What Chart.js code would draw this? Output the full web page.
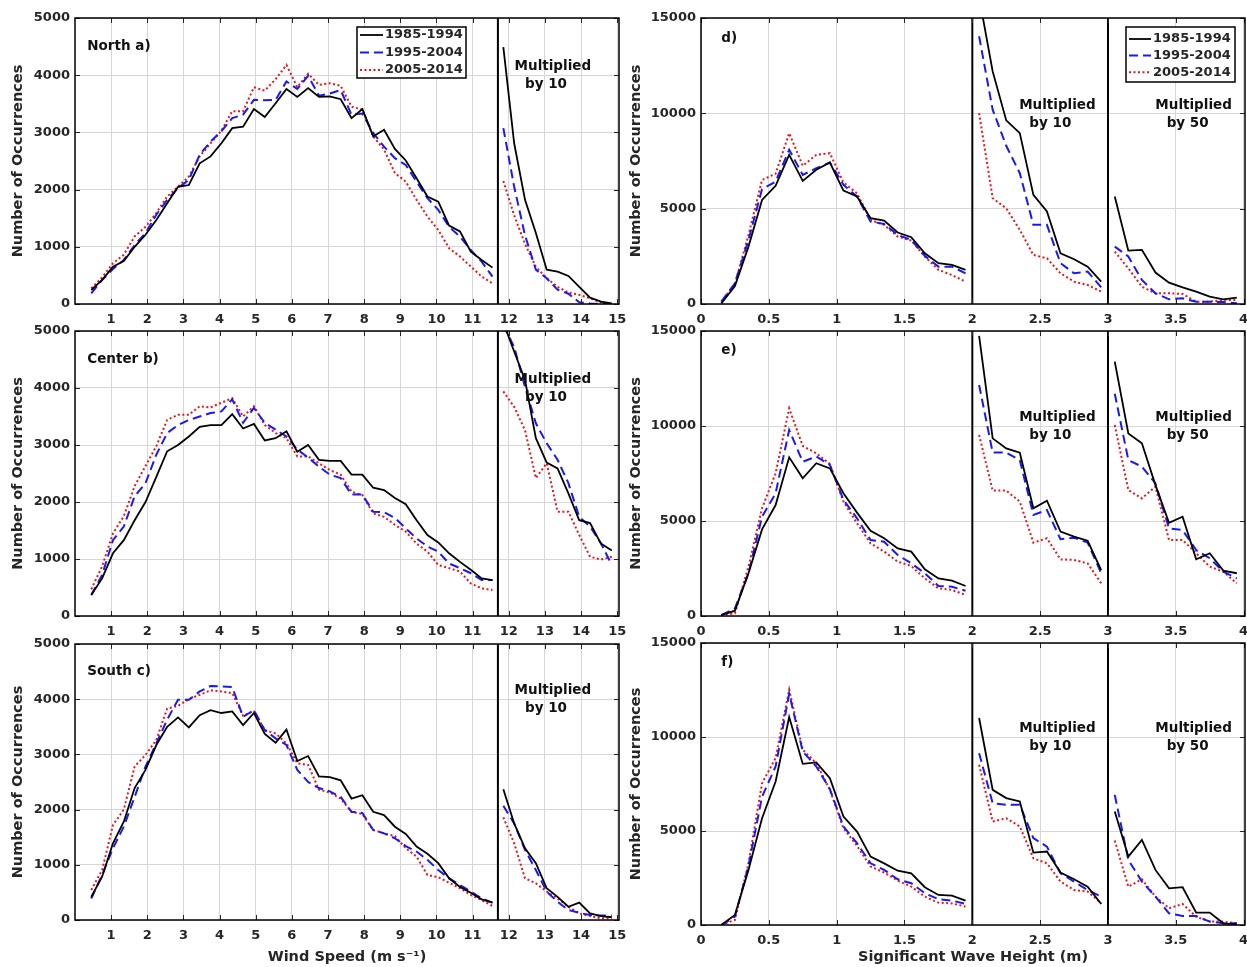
<!DOCTYPE html>
<html>
<head>
<meta charset="utf-8">
<script src="https://cdn.jsdelivr.net/npm/chart.js@4.4.1/dist/chart.umd.min.js"></script>
<style>
  body { margin: 0; background: #fff; width: 1247px; height: 967px; overflow: hidden; position: relative; }
  canvas { position: absolute; }
</style>
</head>
<body>
<canvas id="pa"></canvas>
<canvas id="pb"></canvas>
<canvas id="pc"></canvas>
<canvas id="pd"></canvas>
<canvas id="pe"></canvas>
<canvas id="pf"></canvas>
<script>
// ---- data ----
const periods = ['1985-1994', '1995-2004', '2005-2014'];

// wind speed bin centres (m/s); the black divider sits at 11.7
const windX = [0.45, 0.75, 1.05, 1.35, 1.65, 1.95, 2.25, 2.55, 2.85, 3.15, 3.45, 3.75, 4.05, 4.35, 4.65, 4.95,
  5.25, 5.55, 5.85, 6.15, 6.45, 6.75, 7.05, 7.35, 7.65, 7.95, 8.25, 8.55, 8.85, 9.15, 9.45, 9.75, 10.05, 10.35,
  10.65, 10.95, 11.25, 11.55, 11.85, 12.15, 12.45, 12.75, 13.05, 13.35, 13.65, 13.95, 14.25, 14.55, 14.85];
const windBreaks = [11.7];
const windTicks = [1, 2, 3, 4, 5, 6, 7, 8, 9, 10, 11, 12, 13, 14, 15];
const windCountTicks = [0, 1000, 2000, 3000, 4000, 5000];

// wave height bin centres (m); dividers at 2 and 3
const waveX = [0.15, 0.25, 0.35, 0.45, 0.55, 0.65, 0.75, 0.85, 0.95, 1.05, 1.15, 1.25, 1.35, 1.45, 1.55, 1.65,
  1.75, 1.85, 1.95, 2.05, 2.15, 2.25, 2.35, 2.45, 2.55, 2.65, 2.75, 2.85, 2.95, 3.05, 3.15, 3.25, 3.35, 3.45,
  3.55, 3.65, 3.75, 3.85, 3.95];
const waveBreaks = [2, 3];
const waveTicks = [0, 0.5, 1, 1.5, 2, 2.5, 3, 3.5, 4];
const waveCountTicks = [0, 5000, 10000, 15000];

// North a)
const north85 = [245, 420, 650, 750, 1000, 1210, 1470, 1760, 2050, 2080, 2460, 2580, 2810, 3075, 3100, 3410, 3270, 3510, 3760, 3620, 3775,
  3620, 3630, 3580, 3250, 3410, 2930, 3045, 2710, 2510, 2200, 1880, 1790, 1370, 1270, 915, 770, 636,
  4490, 2810, 1820, 1240, 600, 565, 490, 300, 110, 40, 10];
const north95 = [185, 420, 610, 770, 1030, 1240, 1560, 1820, 2025, 2170, 2610, 2840, 3020, 3250, 3310, 3570, 3560, 3570, 3890, 3760, 3990,
  3640, 3680, 3740, 3310, 3330, 2990, 2750, 2550, 2430, 2140, 1850, 1645, 1350, 1180, 945, 740, 480,
  3075, 2050, 1200, 600, 450, 250, 180, 30, 10, 0, 0];
const north05 = [275, 465, 710, 860, 1180, 1350, 1590, 1880, 2050, 2230, 2580, 2810, 3030, 3370, 3370, 3790, 3730, 3930, 4180, 3790, 4025,
  3830, 3860, 3815, 3450, 3400, 2930, 2700, 2290, 2140, 1820, 1530, 1295, 975, 830, 655, 480, 360,
  2150, 1550, 1050, 650, 450, 300, 200, 160, 100, 30, 0];

// Center b)
const center85 = [370, 660, 1100, 1330, 1680, 2000, 2440, 2890, 3000, 3150, 3320, 3350, 3350, 3540, 3290, 3370, 3080, 3120, 3240, 2880, 3000,
  2740, 2720, 2720, 2480, 2480, 2250, 2210, 2070, 1960, 1680, 1420, 1290, 1100, 950, 810, 660, 630,
  5150, 4640, 4140, 3120, 2690, 2590, 2150, 1680, 1630, 1270, 1150];
const center95 = [370, 720, 1330, 1570, 2100, 2330, 2830, 3210, 3350, 3440, 3500, 3560, 3590, 3800, 3390, 3650, 3390, 3270, 3150, 2920, 2780,
  2620, 2480, 2420, 2130, 2130, 1830, 1820, 1720, 1540, 1360, 1220, 1130, 920, 840, 750, 630, 630,
  5100, 4720, 4020, 3380, 3030, 2740, 2330, 1740, 1570, 1275, 895];
const center05 = [470, 870, 1450, 1750, 2280, 2630, 2980, 3440, 3530, 3530, 3680, 3660, 3740, 3820, 3500, 3680, 3350, 3210, 3120, 2800, 2800,
  2680, 2560, 2480, 2180, 2120, 1800, 1740, 1600, 1480, 1270, 1130, 895, 840, 780, 570, 485, 455,
  3940, 3670, 3260, 2420, 2680, 1830, 1830, 1420, 1040, 990, 1040];

// South c)
const south85 = [420, 785, 1390, 1780, 2390, 2720, 3170, 3500, 3670, 3490, 3710, 3800, 3750, 3780, 3530, 3750, 3370, 3210, 3450, 2880, 2970,
  2600, 2590, 2530, 2200, 2260, 1960, 1900, 1690, 1560, 1330, 1200, 1030, 755, 600, 495, 375, 315,
  2370, 1750, 1300, 1030, 575, 420, 240, 315, 120, 70, 50];
const south95 = [390, 815, 1300, 1690, 2230, 2780, 3200, 3630, 3990, 3990, 4140, 4240, 4230, 4220, 3680, 3800, 3440, 3290, 3170, 2720, 2500,
  2390, 2330, 2230, 1960, 1940, 1630, 1570, 1480, 1340, 1240, 1090, 905, 755, 635, 515, 390, 315,
  2070, 1750, 1270, 905, 515, 330, 180, 130, 90, 80, 80];
const south05 = [545, 905, 1720, 2000, 2780, 2990, 3260, 3830, 3880, 4000, 4080, 4160, 4140, 4110, 3700, 3790, 3440, 3380, 3200, 2840, 2810,
  2360, 2310, 2200, 1960, 1920, 1630, 1570, 1520, 1300, 1150, 815, 775, 675, 575, 455, 360, 255,
  1860, 1390, 755, 665, 515, 390, 240, 120, 70, 30, 25];

// d)
const waveD85 = [35, 945, 3010, 5460, 6200, 7820, 6460, 7040, 7420, 5950, 5640, 4500, 4380, 3750, 3500, 2660, 2140, 2050, 1790,
  16100, 12200, 9630, 8960, 5720, 4850, 2660, 2350, 1960, 1170,
  5640, 2800, 2840, 1650, 1120, 875, 650, 385, 245, 330];
const waveD95 = [120, 1090, 3360, 6020, 6420, 8090, 6770, 7120, 7420, 6250, 5640, 4320, 4200, 3620, 3360, 2520, 1960, 1960, 1610,
  14040, 10190, 8300, 6860, 4150, 4150, 2140, 1610, 1700, 875,
  3010, 2490, 1260, 560, 245, 300, 120, 120, 100, 35];
const waveD05 = [120, 1050, 3620, 6510, 6830, 8960, 7250, 7820, 7910, 6370, 5810, 4410, 4150, 3540, 3330, 2490, 1790, 1520, 1170,
  10010, 5550, 5020, 3890, 2570, 2400, 1610, 1170, 1000, 650,
  2750, 1870, 910, 560, 560, 525, 120, 120, 210, 210];

// e)
const waveE85 = [50, 280, 2250, 4560, 5840, 8350, 7250, 8040, 7770, 6460, 5440, 4490, 4090, 3560, 3390, 2460, 1980, 1860, 1580,
  14740, 9350, 8820, 8600, 5670, 6070, 4440, 4180, 3960, 2420,
  13390, 9610, 9090, 6890, 4910, 5230, 2980, 3300, 2390, 2250];
const waveE95 = [50, 400, 2250, 5230, 6460, 9790, 8120, 8390, 7950, 6110, 5140, 4000, 3910, 3210, 2770, 2250, 1580, 1540, 1330,
  12160, 8600, 8600, 8200, 5320, 5580, 4040, 4120, 3860, 2250,
  11700, 8210, 7860, 6980, 4610, 4520, 3470, 3040, 2330, 1980];
const waveE05 = [50, 140, 2600, 5670, 7510, 10930, 8950, 8560, 8000, 6020, 4880, 3820, 3390, 2860, 2630, 1980, 1460, 1370, 1110,
  9530, 6600, 6600, 6020, 3860, 4090, 2980, 2950, 2770, 1720,
  10050, 6630, 6190, 6810, 4000, 4000, 3300, 2600, 2330, 1720];

// f)
const waveF85 = [0, 530, 2930, 5680, 7630, 11060, 8570, 8650, 7810, 5770, 4970, 3640, 3280, 2890, 2750, 2010, 1600, 1560, 1300,
  11010, 7190, 6750, 6570, 3850, 3910, 2790, 2430, 2040, 1120,
  6040, 3640, 4530, 2930, 1950, 2010, 660, 660, 90, 35];
const waveF95 = [0, 440, 3140, 6830, 8430, 12300, 9230, 8430, 7230, 5240, 4350, 3280, 2930, 2430, 2220, 1690, 1370, 1300, 1120,
  9140, 6480, 6390, 6390, 4620, 4170, 2750, 2310, 1860, 1510,
  6920, 3460, 2310, 1510, 620, 480, 480, 180, 90, 90];
const waveF05 = [0, 270, 3280, 7540, 8880, 12520, 9320, 8610, 7190, 5150, 4210, 3110, 2790, 2360, 2040, 1510, 1190, 1150, 980,
  8520, 5500, 5680, 5240, 3550, 3280, 2310, 1860, 1780, 1150,
  4490, 2040, 2430, 1510, 890, 1120, 440, 180, 180, 90];

// ---- styles ----
const FONT = "'DejaVu Sans', sans-serif";
const TEXT = '#262626';
const GRID = '#d6d6d6';
const lineColors = ['#000000', '#1a1aee', '#e8141b'];
const lineDash = [[], [9, 5], [2, 2.5]];
const lineWidths = [1.8, 2, 2];

function buildPoints(xs, ys, breaks) {
  const pts = [];
  xs.forEach((x, i) => {
    if (i > 0 && breaks.some(b => xs[i - 1] < b && x > b)) {
      pts.push({ x: (xs[i - 1] + x) / 2, y: null });
    }
    pts.push({ x: x, y: ys[i] });
  });
  return pts;
}

// frame, inward ticks, dividers, panel notes and legend box
const decoPlugin = {
  id: 'deco',
  afterDatasetsDraw(chart, args, opts) {
    const ctx = chart.ctx;
    const a = chart.chartArea;
    const xs = chart.scales.x, ys = chart.scales.y;
    ctx.save();

    // dividers
    ctx.strokeStyle = '#000';
    ctx.lineWidth = 2;
    opts.breaks.forEach(b => {
      const px = xs.getPixelForValue(b);
      ctx.beginPath(); ctx.moveTo(px, a.top); ctx.lineTo(px, a.bottom); ctx.stroke();
    });

    // inward tick marks
    ctx.strokeStyle = TEXT;
    ctx.lineWidth = 1;
    xs.ticks.forEach(t => {
      const px = Math.round(xs.getPixelForValue(t.value)) + 0.5;
      ctx.beginPath();
      ctx.moveTo(px, a.top); ctx.lineTo(px, a.top + 5);
      ctx.moveTo(px, a.bottom); ctx.lineTo(px, a.bottom - 5);
      ctx.stroke();
    });
    ys.ticks.forEach(t => {
      const py = Math.round(ys.getPixelForValue(t.value)) + 0.5;
      ctx.beginPath();
      ctx.moveTo(a.left, py); ctx.lineTo(a.left + 5, py);
      ctx.moveTo(a.right, py); ctx.lineTo(a.right - 5, py);
      ctx.stroke();
    });

    // frame
    ctx.strokeStyle = '#000';
    ctx.lineWidth = 1.5;
    ctx.strokeRect(a.left, a.top, a.right - a.left, a.bottom - a.top);

    // notes
    ctx.fillStyle = '#111';
    ctx.textBaseline = 'middle';
    ctx.font = 'bold 13.5px ' + FONT;
    opts.notes.forEach(n => {
      ctx.textAlign = n.align;
      ctx.fillText(n.text, xs.getPixelForValue(n.x), ys.getPixelForValue(n.y));
    });

    // legend
    const lg = opts.legend;
    if (lg) {
      const lx = a.left + lg.dx, ly = a.top + lg.dy;
      ctx.fillStyle = '#fff';
      ctx.fillRect(lx, ly, lg.w, lg.h);
      ctx.strokeStyle = '#000';
      ctx.lineWidth = 1.5;
      ctx.strokeRect(lx, ly, lg.w, lg.h);
      periods.forEach((p, i) => {
        const cy = ly + lg.rowTop + i * lg.rowGap;
        ctx.strokeStyle = lineColors[i];
        ctx.lineWidth = lineWidths[i];
        ctx.setLineDash(lineDash[i]);
        ctx.beginPath();
        ctx.moveTo(lx + 3, cy); ctx.lineTo(lx + 3 + lg.sample, cy);
        ctx.stroke();
        ctx.setLineDash([]);
        ctx.fillStyle = TEXT;
        ctx.textAlign = 'left';
        ctx.font = 'bold 13px ' + FONT;
        ctx.fillText(p, lx + lg.textX, cy);
      });
    }
    ctx.restore();
  }
};

const leftNotes = (name) => [
  { text: name, x: 0.34, y: 4500, align: 'left' },
  { text: 'Multiplied', x: 13.22, y: 4150, align: 'center' },
  { text: 'by 10', x: 13.03, y: 3835, align: 'center' }
];
const rightNotes = (name) => [
  { text: name, x: 0.15, y: 13950, align: 'left' },
  { text: 'Multiplied', x: 2.627, y: 10430, align: 'center' },
  { text: 'by 10', x: 2.575, y: 9480, align: 'center' },
  { text: 'Multiplied', x: 3.631, y: 10430, align: 'center' },
  { text: 'by 50', x: 3.587, y: 9480, align: 'center' }
];

const panels = [
  { id: 'pa', left: 75, top: 18, h: 286, axisH: 30, side: 'L', series: [north85, north95, north05], notes: leftNotes('North a)'),
    legend: { dx: 282, dy: 9, w: 109, h: 51, rowTop: 8, rowGap: 17.5, sample: 23, textX: 28 } },
  { id: 'pb', left: 75, top: 331, h: 285, axisH: 30, side: 'L', series: [center85, center95, center05], notes: leftNotes('Center b)') },
  { id: 'pc', left: 75, top: 644, h: 276, axisH: 47, side: 'L', series: [south85, south95, south05], notes: leftNotes('South c)'),
    xTitle: 'Wind Speed (m s\u207B\u00B9)' },
  { id: 'pd', left: 701, top: 18, h: 286, axisH: 30, side: 'R', series: [waveD85, waveD95, waveD05], notes: rightNotes('d)'),
    legend: { dx: 425, dy: 9, w: 109, h: 55, rowTop: 12, rowGap: 16.6, sample: 22, textX: 27 } },
  { id: 'pe', left: 701, top: 331, h: 285, axisH: 30, side: 'R', series: [waveE85, waveE95, waveE05], notes: rightNotes('e)') },
  { id: 'pf', left: 701, top: 643, h: 282, axisH: 42, side: 'R', series: [waveF85, waveF95, waveF05], notes: rightNotes('f)'),
    xTitle: 'Significant Wave Height (m)' }
];

const Y_AXIS_W = 75, PLOT_W = 544, PAD_TOP = 12;

panels.forEach(p => {
  const isLeft = p.side === 'L';
  const xsArr = isLeft ? windX : waveX;
  const breaks = isLeft ? windBreaks : waveBreaks;
  const xTicks = isLeft ? windTicks : waveTicks;
  const yTicks = isLeft ? windCountTicks : waveCountTicks;
  const padRight = isLeft ? 12 : 2;

  const canvas = document.getElementById(p.id);
  canvas.width = Y_AXIS_W + PLOT_W + padRight;
  canvas.height = PAD_TOP + p.h + p.axisH;
  canvas.style.left = (p.left - Y_AXIS_W) + 'px';
  canvas.style.top = (p.top - PAD_TOP) + 'px';

  const datasets = p.series.map((ys, i) => ({
    label: periods[i],
    data: buildPoints(xsArr, ys, breaks),
    borderColor: lineColors[i],
    borderWidth: lineWidths[i],
    borderDash: lineDash[i],
    pointRadius: 0,
    fill: false,
    tension: 0,
    spanGaps: false
  }));

  new Chart(canvas.getContext('2d'), {
    type: 'line',
    data: { datasets: datasets },
    plugins: [decoPlugin],
    options: {
      responsive: false,
      animation: false,
      events: [],
      layout: { padding: { top: PAD_TOP, right: padRight, left: 0, bottom: 0 } },
      plugins: {
        legend: { display: false },
        tooltip: { enabled: false },
        deco: { breaks: breaks, notes: p.notes, legend: p.legend }
      },
      scales: {
        x: {
          type: 'linear',
          min: 0,
          max: isLeft ? 15.05 : 4.01,
          afterBuildTicks: s => { s.ticks = xTicks.map(v => ({ value: v })); },
          afterFit: s => { s.height = p.axisH; s.paddingLeft = 0; s.paddingRight = 0; s.paddingTop = 0; s.paddingBottom = 0; },
          grid: { color: GRID, lineWidth: 1, drawTicks: false },
          border: { display: false },
          ticks: {
            autoSkip: false, maxRotation: 0, padding: 8, color: TEXT,
            font: { family: FONT, size: 13, weight: 'bold' },
            callback: v => String(v)
          },
          title: {
            display: !!p.xTitle, text: p.xTitle || '', color: TEXT,
            font: { family: FONT, size: 14.5, weight: 'bold' },
            padding: { top: 0, bottom: 1 }
          }
        },
        y: {
          min: 0,
          max: isLeft ? 5000 : 15000,
          afterBuildTicks: s => { s.ticks = yTicks.map(v => ({ value: v })); },
          afterFit: s => { s.width = Y_AXIS_W; s.paddingLeft = 0; s.paddingRight = 0; s.paddingTop = 0; s.paddingBottom = 0; },
          grid: { color: GRID, lineWidth: 1, drawTicks: false },
          border: { display: false },
          ticks: {
            padding: 5, color: TEXT,
            font: { family: FONT, size: 13, weight: 'bold' },
            callback: v => String(v)
          },
          title: {
            display: true, text: 'Number of Occurrences', color: TEXT,
            font: { family: FONT, size: 14.5, weight: 'bold' },
            padding: { top: isLeft ? 10 : 2, bottom: 0 }
          }
        }
      }
    }
  });
});
</script>
</body>
</html>
